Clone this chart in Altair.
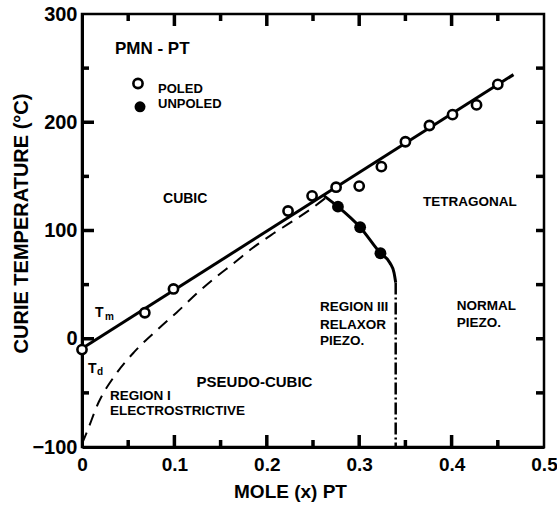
import altair as alt
import pandas as pd

FONT = "Liberation Sans"

# Curie temperature of poled ceramics (open circles)
poled_x = [0.0, 0.068, 0.099, 0.223, 0.249, 0.275, 0.300, 0.324, 0.350, 0.376, 0.401, 0.427, 0.450]
poled_t = [-10, 24, 46, 118, 132, 140, 141, 159, 182, 197, 207, 216, 235]

# Curie temperature of unpoled ceramics (filled circles)
unpoled_x = [0.277, 0.301, 0.323]
unpoled_t = [122, 103, 79]

# Tm: temperature of the permittivity maximum (solid fit)
tm_x = [0.0, 0.467]
tm_t = [-9, 244]

# Td: depolarisation temperature (dashed)
td_x = [0.0, 0.0047, 0.018, 0.0354, 0.0561, 0.0823, 0.1025, 0.127, 0.145, 0.163, 0.185, 0.205, 0.225, 0.248, 0.265]
td_t = [-97, -87.5, -58.7, -34.2, -12.6, 8.9, 24.3, 44, 57, 69, 84, 96, 107, 120, 131]

# rhombohedral/tetragonal boundary of the unpoled samples
bd_x = [0.262, 0.277, 0.301, 0.323, 0.3333, 0.3377, 0.3395]
bd_t = [132, 122, 103, 79, 70, 61, 52]

# morphotropic boundary (dash-dot) below the curve
mpb_x = [0.3395]
mpb_top = [52]
mpb_bottom = [-100]

# legend markers: open = poled, filled = unpoled
legend_open_x, legend_open_t = [0.0606], [235.8]
legend_fill_x, legend_fill_t = [0.0628], [214.3]

# region labels and other annotations
ann_text = ["PMN - PT", "POLED", "UNPOLED", "CUBIC", "TETRAGONAL", "PSEUDO-CUBIC",
            "REGION I", "ELECTROSTRICTIVE", "REGION III", "RELAXOR", "PIEZO.",
            "NORMAL", "PIEZO.", "T", "m", "T", "d"]
ann_x = [0.0357, 0.0823, 0.0823, 0.0877, 0.369, 0.124,
         0.0303, 0.0303, 0.2576, 0.2576, 0.2576,
         0.4055, 0.4055, 0.0141, 0.0249, 0.0065, 0.0162]
ann_t = [268, 231, 216.5, 129, 126, -40.4,
         -52.7, -67.2, 28.9, 12.9, -1.8,
         30.5, 14.8, 24, 19.9, -27.7, -30.5]
ann_size = [17, 13, 13, 14, 13.5, 15,
            13.5, 13.5, 13.5, 13.5, 13.5,
            13.5, 13.5, 14, 10, 14, 10]

# inward tick positions
x_major = [0.1, 0.2, 0.3, 0.4]
x_minor = [0.05, 0.15, 0.25, 0.35, 0.45]
y_major = [0, 100, 200]
y_minor = [-50, 50, 150, 250]

X_DOMAIN = [0, 0.5]
Y_DOMAIN = [-100, 300]
PLOT_W, PLOT_H = 462, 433

xs = alt.Scale(domain=X_DOMAIN, nice=False, zero=False)
ys = alt.Scale(domain=Y_DOMAIN, nice=False, zero=False)

AXIS_STYLE = dict(
    grid=False, tickColor="transparent", tickSize=0, domain=True,
    domainColor="black", domainWidth=3, labelFont=FONT, labelFontWeight="bold",
    labelColor="black", titleFont=FONT, titleFontWeight="bold", titleColor="black",
    labelFlush=False, labelOverlap=False,
)
X_AXIS = alt.Axis(
    values=[0, 0.1, 0.2, 0.3, 0.4, 0.5],
    labelExpr="datum.value == 0 ? '0' : format(datum.value, '.1f')",
    title="MOLE (x) PT", titleX=208, titleY=44, titleBaseline="middle",
    titleAlign="center", titleFontSize=19, labelFontSize=19, labelPadding=8,
    **AXIS_STYLE,
)
Y_AXIS = alt.Axis(
    values=[-100, 0, 100, 200, 300],
    title="CURIE TEMPERATURE (°C)", titleX=-61, titleY=209, titleAngle=-90,
    titleBaseline="middle", titleAlign="center", titleFontSize=20,
    labelFontSize=20, labelPadding=5, **AXIS_STYLE,
)


def xenc(field):
    return alt.X(field, type="quantitative", scale=xs, axis=X_AXIS)


def yenc(field):
    return alt.Y(field, type="quantitative", scale=ys, axis=Y_AXIS)


def xy_chart(xv, tv):
    return alt.Chart(pd.DataFrame({"x": xv, "t": tv}))


tm_line = xy_chart(tm_x, tm_t).mark_line(color="black", strokeWidth=3).encode(
    x=xenc("x"), y=yenc("t"))

td_line = xy_chart(td_x, td_t).mark_line(
    color="black", strokeWidth=2, strokeDash=[12, 8], interpolate="monotone"
).encode(x=xenc("x"), y=yenc("t"))

bd_line = xy_chart(bd_x, bd_t).mark_line(
    color="black", strokeWidth=3, interpolate="monotone"
).encode(x=xenc("x"), y=yenc("t"))

mpb_line = alt.Chart(pd.DataFrame({"x": mpb_x, "t": mpb_top, "t2": mpb_bottom})).mark_rule(
    color="black", strokeWidth=2.5, strokeDash=[12, 3, 2, 3]
).encode(x=xenc("x"), y=yenc("t"), y2="t2")

OPEN = dict(shape="circle", size=85, filled=True, fill="white", stroke="black",
            strokeWidth=2.6, opacity=1)
SOLID = dict(shape="circle", size=140, filled=True, color="black", opacity=1)

poled_pts = xy_chart(poled_x, poled_t).mark_point(**OPEN).encode(
    x=xenc("x"), y=yenc("t"))
unpoled_pts = xy_chart(unpoled_x, unpoled_t).mark_point(**SOLID).encode(
    x=xenc("x"), y=yenc("t"))
legend_open = xy_chart(legend_open_x, legend_open_t).mark_point(**OPEN).encode(
    x=xenc("x"), y=yenc("t"))
legend_solid = xy_chart(legend_fill_x, legend_fill_t).mark_point(
    **dict(SOLID, size=120)).encode(x=xenc("x"), y=yenc("t"))

ann_df = pd.DataFrame({"x": ann_x, "t": ann_t, "label": ann_text, "fs": ann_size})
label_layers = [
    alt.Chart(ann_df[ann_df["fs"] == fs]).mark_text(
        align="left", baseline="middle", font=FONT, fontWeight="bold",
        color="black", fontSize=fs
    ).encode(x=xenc("x"), y=yenc("t"), text="label:N")
    for fs in sorted(set(ann_size))
]

# pixel length -> data units, for the inward frame ticks
DX = (X_DOMAIN[1] - X_DOMAIN[0]) / PLOT_W
DY = (Y_DOMAIN[1] - Y_DOMAIN[0]) / PLOT_H
TICK_W = 3.5


def vtick_chart(values, edge, length):
    sign = 1 if edge == Y_DOMAIN[0] else -1
    df = pd.DataFrame({"x": values, "t": [edge] * len(values),
                       "t2": [edge + sign * length * DY] * len(values)})
    return alt.Chart(df).mark_rule(color="black", strokeWidth=TICK_W).encode(
        x=alt.X("x:Q", scale=xs), y=alt.Y("t:Q", scale=ys), y2="t2")


def htick_chart(values, edge, length):
    sign = 1 if edge == X_DOMAIN[0] else -1
    df = pd.DataFrame({"x": [edge] * len(values), "t": values,
                       "x2": [edge + sign * length * DX] * len(values)})
    return alt.Chart(df).mark_rule(color="black", strokeWidth=TICK_W).encode(
        x=alt.X("x:Q", scale=xs), x2="x2", y=alt.Y("t:Q", scale=ys))


frame_ticks = [
    vtick_chart(x_major, -100, 12), vtick_chart(x_minor, -100, 7),
    vtick_chart(x_major, 300, 12), vtick_chart(x_minor, 300, 7),
    htick_chart(y_major, 0, 12), htick_chart(y_minor, 0, 7),
    htick_chart(y_major, 0.5, 8), htick_chart(y_minor, 0.5, 8),
]

chart = alt.layer(
    td_line, tm_line, bd_line, mpb_line, poled_pts, unpoled_pts,
    legend_open, legend_solid, *label_layers, *frame_ticks
).properties(
    width=PLOT_W, height=PLOT_H,
    autosize=alt.AutoSizeParams(type="none"),
    padding={"left": 82, "top": 14, "right": 13, "bottom": 61},
).configure_view(
    stroke="black", strokeWidth=2.5
)

chart.save("out.html", embed_options={"renderer": "svg", "actions": False})
